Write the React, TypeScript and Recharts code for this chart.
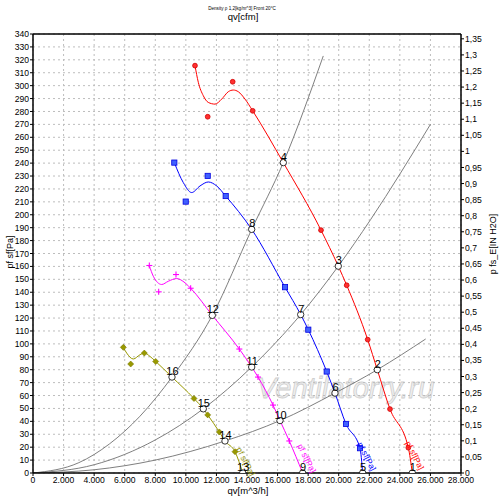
import React from 'react';
import { ComposedChart, Line, XAxis, YAxis, CartesianGrid, Scatter, ReferenceDot } from 'recharts';

type P = [number, number];

// ---- fan curves (smoothed lines) ----
const redLine: P[] = [[10598,315.5],[10814,302.6],[11141,292.2],[11468,287.0],[11906,285.7],[12345,289.6],[12777,295.3],[13104,296.6],[13431,295.3],[13869,289.6],[14373,280.5],[16375,240.4],[18841,188.1],[19973,160.2],[20522,145.4],[21896,103.3],[22524,80.0],[23355,49.5],[24553,19.6],[24814,0]];
const blueLine: P[] = [[9245,240.4],[9834,224.9],[10380,217.2],[10925,222.3],[11468,225.4],[12018,222.3],[12606,214.5],[14307,188.7],[16486,143.9],[17513,122.7],[18010,111],[19214,78.6],[19757,61.9],[20476,38],[21392,19.2],[21567,0]];
const magentaLine: P[] = [[7610,160.7],[7870,152.4],[8418,146],[8851,148.5],[9399,150.6],[9944,147.3],[10314,143.1],[11730,122.1],[13497,96],[14307,82.1],[14720,74.3],[15701,52.6],[16159,40.6],[16767,24.8],[17641,0]];
const oliveLine: P[] = [[5909,97.3],[6130,92.9],[6562,88.3],[7000,91.6],[7283,92.9],[7654,90.3],[8026,86.4],[9093,74.3],[10532,57.7],[11141,49.7],[11429,45],[12188,31.8],[12560,24.8],[13215,16.5],[13718,0]];

// ---- measured markers ----
const redMarks: P[] = [[10598,315.5],[11429,275.9],[13064,303],[14373,280.5],[18841,188.1],[20522,145.4],[21896,103.3],[23355,49.5],[24553,19.6]];
const blueMarks: P[] = [[9245,240.4],[9990,210.2],[11429,230.1],[12606,214.5],[16486,143.9],[18010,111],[19214,78.6],[20476,38],[21392,19.2]];
const magentaMarks: P[] = [[7610,160.7],[8222,140.3],[9355,153.7],[10314,143.1],[13497,96],[14720,74.3],[15701,52.6],[16767,24.8]];
const oliveMarks: P[] = [[5909,97.3],[6391,84.4],[7283,92.9],[8026,86.4],[10532,57.7],[11429,45],[12188,31.8],[13215,16.5]];

// ---- system curves (gray) ----
const sysA: P[] = [[0,0],[3000,8],[5000,22.5],[7000,44],[9093,74.3],[11730,122.1],[14307,188.7],[16375,240.4],[18990,323]];
const sysB: P[] = [[0,0],[4000,6.4],[6000,14.4],[8000,25.6],[11141,49.7],[14307,82.1],[17513,122.7],[19973,160.2],[22094,196.4],[26000,270]];
const sysC: P[] = [[0,0],[4000,2.5],[8000,10],[12560,24.8],[16159,40.6],[19757,61.9],[22524,80],[25690,103.8]];

// ---- operating points ----
const opNums = [1,2,3,4,5,6,7,8,9,10,11,12,13,14,15,16];
const opQ = [24814,22524,19973,16375,21567,19757,17513,14307,17641,16159,14307,11730,13718,12560,11141,9093];
const opP = [0,80,160.2,240.4,0,61.9,122.7,188.7,0,40.6,82.1,122.1,0,24.8,49.7,74.3];

// ---- series labels ----
const seriesLabelText = 'pf sf[Pa]';
const seriesLabelColors = ['#ff0000','#0000ff','#ff00ff','#8c8c00'];
const seriesLabelQ = [24336,21196,17271,13280];
const seriesLabelP = [23.3,22.5,21,18.6];

// ---- ticks ----
const bottomTicks = [0,2000,4000,6000,8000,10000,12000,14000,16000,18000,20000,22000,24000,26000,28000];
const topTicks = [0,2000,4000,6000,8000,10000,12000,14000,16000];
const leftTicks = [0,10,20,30,40,50,60,70,80,90,100,110,120,130,140,150,160,170,180,190,200,210,220,230,240,250,260,270,280,290,300,310,320,330,340];
const rightTicks = [0,0.05,0.1,0.15,0.2,0.25,0.3,0.35,0.4,0.45,0.5,0.55,0.6,0.65,0.7,0.75,0.8,0.85,0.9,0.95,1,1.05,1.1,1.15,1.2,1.25,1.3,1.35];

const toObj = (a: P[]) => a.map(([q, p]) => ({ q, p }));
const ops = opNums.map((n, i) => ({ q: opQ[i], p: opP[i], n }));

const FONT = '"Liberation Sans", Arial, sans-serif';
const tickStyle = { fontSize: 8.6, fill: '#000', fontFamily: FONT };

const fmtThousands = (v: number) => (v === 0 ? '0' : (v / 1000).toFixed(3));
const fmtComma = (v: number) => String(Math.round(v * 100) / 100).replace('.', ',');

const RedDot = (props: any) => {
  const { cx, cy } = props;
  if (cx == null || cy == null) return null;
  return <circle cx={cx} cy={cy} r={2.4} fill="#ff3030" stroke="#d00000" strokeWidth={0.8} />;
};
const BlueSq = (props: any) => {
  const { cx, cy } = props;
  if (cx == null || cy == null) return null;
  return <rect x={cx - 2.6} y={cy - 2.6} width={5.2} height={5.2} fill="#4060ff" stroke="#0000e0" strokeWidth={0.8} />;
};
const MagPlus = (props: any) => {
  const { cx, cy } = props;
  if (cx == null || cy == null) return null;
  return (
    <g stroke="#ff00ff" strokeWidth={1.1}>
      <line x1={cx - 3} y1={cy} x2={cx + 3} y2={cy} />
      <line x1={cx} y1={cy - 3} x2={cx} y2={cy + 3} />
    </g>
  );
};
const OliveDia = (props: any) => {
  const { cx, cy } = props;
  if (cx == null || cy == null) return null;
  return <polygon points={`${cx},${cy - 3} ${cx + 3},${cy} ${cx},${cy + 3} ${cx - 3},${cy}`} fill="#999900" stroke="#7a7a00" strokeWidth={0.6} />;
};
const OpPoint = (props: any) => {
  const { cx, cy, payload } = props;
  if (cx == null || cy == null) return null;
  return (
    <g>
      <circle cx={cx} cy={cy} r={3.2} fill="#fff" stroke="#000" strokeWidth={0.8} />
      <text x={cx + 0.5} y={cy - 2} textAnchor="middle" fontSize={11} fontFamily={FONT} fill="#000">{payload.n}</text>
    </g>
  );
};

export default function App() {
  return (
    <div style={{ position: 'fixed', left: 0, top: 0, width: 500, height: 500, background: '#fff', overflow: 'hidden' }}>
      <svg width={500} height={500} style={{ position: 'absolute', left: 0, top: 0 }}>
        <text x={257} y={398} fontSize={29} fontStyle="italic" fontFamily={FONT} fill="#eeeeee" stroke="#cfcfcf" strokeWidth={0.8}>Ventilatorry.ru</text>
      </svg>
      <div style={{ position: 'absolute', left: 0, top: 0 }}>
        <ComposedChart width={500} height={500} margin={{ top: 0, right: 0, bottom: 0, left: 0 }}>
          <CartesianGrid xAxisId="bottom" yAxisId="left" stroke="#bdbdbd" strokeDasharray="2 3" horizontalValues={leftTicks} verticalValues={bottomTicks} />
          <XAxis xAxisId="bottom" dataKey="q" type="number" domain={[0, 28000]} ticks={bottomTicks} interval={0} allowDataOverflow height={27} tickFormatter={fmtThousands} tick={tickStyle} tickSize={3} tickMargin={1} axisLine={{ stroke: '#000', strokeWidth: 1.5 }} tickLine={{ stroke: '#000' }} />
          <XAxis xAxisId="top" orientation="top" type="number" domain={[0, 16480]} ticks={topTicks} interval={0} allowDataOverflow height={34} tickFormatter={fmtThousands} tick={tickStyle} tickSize={3} tickMargin={1} axisLine={{ stroke: '#000', strokeWidth: 1.5 }} tickLine={{ stroke: '#000' }} />
          <YAxis yAxisId="left" dataKey="p" type="number" domain={[0, 340]} ticks={leftTicks} interval={0} allowDataOverflow width={33} tick={tickStyle} tickSize={3} tickMargin={1} axisLine={{ stroke: '#000', strokeWidth: 1.5 }} tickLine={{ stroke: '#000' }} />
          <YAxis yAxisId="right" orientation="right" type="number" domain={[0, 1.365]} ticks={rightTicks} interval={0} allowDataOverflow width={39} tickFormatter={fmtComma} tick={tickStyle} tickSize={3} tickMargin={1} axisLine={{ stroke: '#000', strokeWidth: 1.5 }} tickLine={{ stroke: '#000' }} />

          <Line xAxisId="bottom" yAxisId="left" data={toObj(sysA)} dataKey="p" type="monotone" stroke="#707070" strokeWidth={0.9} dot={false} isAnimationActive={false} />
          <Line xAxisId="bottom" yAxisId="left" data={toObj(sysB)} dataKey="p" type="monotone" stroke="#707070" strokeWidth={0.9} dot={false} isAnimationActive={false} />
          <Line xAxisId="bottom" yAxisId="left" data={toObj(sysC)} dataKey="p" type="monotone" stroke="#707070" strokeWidth={0.9} dot={false} isAnimationActive={false} />

          <Line xAxisId="bottom" yAxisId="left" data={toObj(redLine)} dataKey="p" type="monotone" stroke="#ff0000" strokeWidth={1} dot={false} isAnimationActive={false} />
          <Line xAxisId="bottom" yAxisId="left" data={toObj(blueLine)} dataKey="p" type="monotone" stroke="#0000ff" strokeWidth={1} dot={false} isAnimationActive={false} />
          <Line xAxisId="bottom" yAxisId="left" data={toObj(magentaLine)} dataKey="p" type="monotone" stroke="#ff00ff" strokeWidth={1} dot={false} isAnimationActive={false} />
          <Line xAxisId="bottom" yAxisId="left" data={toObj(oliveLine)} dataKey="p" type="monotone" stroke="#999900" strokeWidth={1} dot={false} isAnimationActive={false} />

          <Scatter xAxisId="bottom" yAxisId="left" data={toObj(redMarks)} dataKey="p" shape={RedDot} isAnimationActive={false} />
          <Scatter xAxisId="bottom" yAxisId="left" data={toObj(blueMarks)} dataKey="p" shape={BlueSq} isAnimationActive={false} />
          <Scatter xAxisId="bottom" yAxisId="left" data={toObj(magentaMarks)} dataKey="p" shape={MagPlus} isAnimationActive={false} />
          <Scatter xAxisId="bottom" yAxisId="left" data={toObj(oliveMarks)} dataKey="p" shape={OliveDia} isAnimationActive={false} />

          {seriesLabelQ.map((q, i) => (
            <ReferenceDot key={'sl' + i} xAxisId="bottom" yAxisId="left" x={q} y={seriesLabelP[i]} r={0} ifOverflow="visible"
              shape={(pr: any) => (
                <text x={pr.cx} y={pr.cy} transform={`rotate(63 ${pr.cx} ${pr.cy})`} fontSize={8.5} fontFamily={FONT} fill={seriesLabelColors[i]}>{seriesLabelText}</text>
              )} />
          ))}

          <Scatter xAxisId="bottom" yAxisId="left" data={ops} dataKey="p" shape={OpPoint} isAnimationActive={false} />
        </ComposedChart>
      </div>
      <svg width={500} height={500} style={{ position: 'absolute', left: 0, top: 0, pointerEvents: 'none' }}>
        <text x={242} y={10} textAnchor="middle" fontSize={4.6} fontFamily={FONT} fill="#000">Density ρ 1,2[kg/m^3] Front 20°C</text>
        <text x={243} y={20} textAnchor="middle" fontSize={9.5} fontFamily={FONT} fill="#000">qv[cfm]</text>
        <text x={248} y={494} textAnchor="middle" fontSize={9.5} fontFamily={FONT} fill="#000">qv[m^3/h]</text>
        <text x={0} y={0} transform="translate(13,252) rotate(-90)" textAnchor="middle" fontSize={9} fontFamily={FONT} fill="#000">pf sf[Pa]</text>
        <text x={0} y={0} transform="translate(496,244) rotate(-90)" textAnchor="middle" fontSize={9} fontFamily={FONT} fill="#000">p fs_E[IN H2O]</text>
      </svg>
    </div>
  );
}
